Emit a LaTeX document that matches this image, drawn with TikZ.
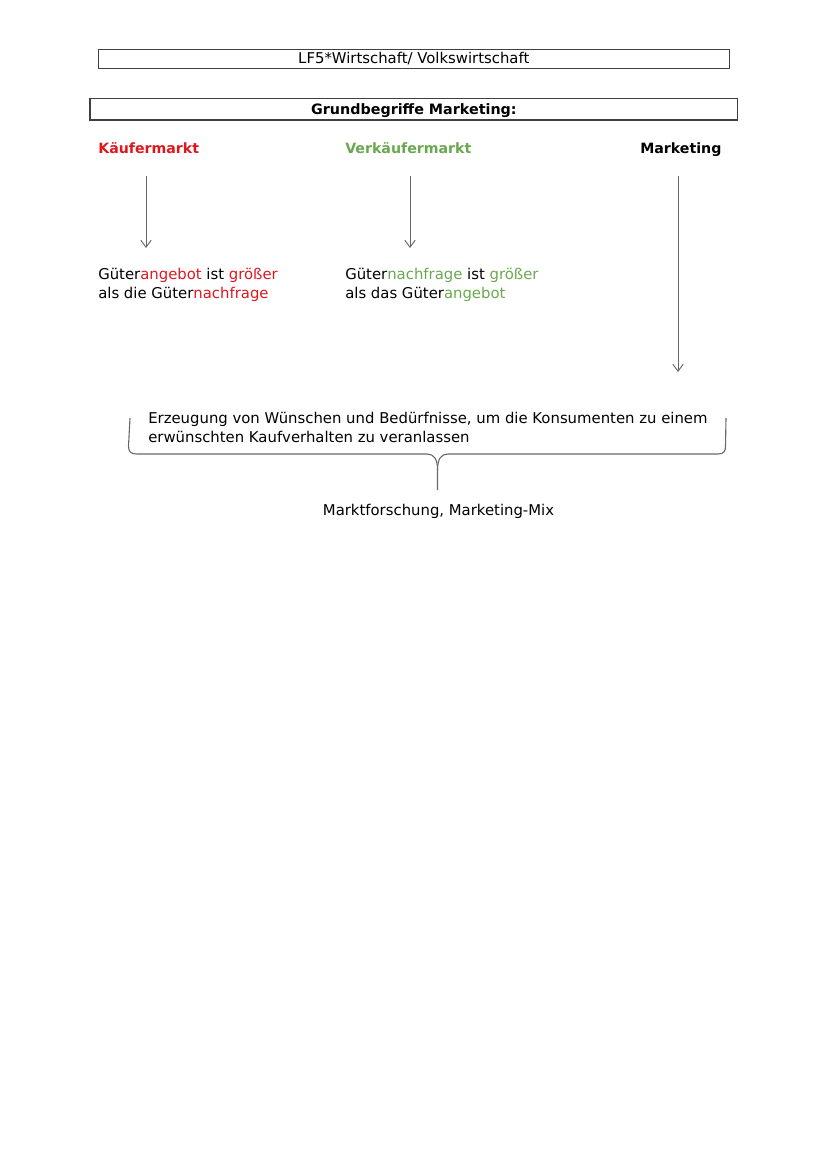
\documentclass[tikz,border=0pt]{standalone}
\usepackage{fontspec}
\setmainfont{DejaVu Sans}
\usetikzlibrary{arrows.meta,positioning}
\definecolor{kaeuferrot}{RGB}{220,24,30}
\definecolor{verkaeufergruen}{RGB}{106,168,79}
\definecolor{linie}{RGB}{105,105,105}
\def\pxu{0.72pt}
\tikzset{
  kopfbox/.style={draw=black!75, line width=0.9pt, inner sep=0pt,
    font=\fontsize{10.7}{13.4}\selectfont},
  begriff/.style={anchor=base west, inner sep=0pt,
    font=\fontsize{10.2}{13.4}\selectfont\bfseries},
  erklaerung/.style={anchor=base west, inner sep=0pt, align=left,
    font=\fontsize{10.7}{13.4}\selectfont},
  pfeil/.style={draw=linie, line width=0.7pt,
    -{Straight Barb[length=5pt,width=7.5pt]}}
}
\newcommand{\rot}[1]{\textcolor{kaeuferrot}{#1}}
\newcommand{\gruen}[1]{\textcolor{verkaeufergruen}{#1}}

\begin{document}
\begin{tikzpicture}[x=\pxu, y=-\pxu]
    \useasboundingbox (0,0) rectangle (828,1171);
    % Kopfzeile und Ueberschrift
    \node[kopfbox, minimum width=631*\pxu, minimum height=19.4*\pxu, text height=8pt, text depth=1.6pt] (titel) at (413.8,59) {LF5*Wirtschaft/ Volkswirtschaft};
    \node[kopfbox, minimum width=647.7*\pxu, minimum height=21.3*\pxu, text height=8.6pt, text depth=0.6pt,
      font=\fontsize{10.3}{13.4}\selectfont\bfseries] (grund) at (413.9,109.4) {Grundbegriffe Marketing:};
    % Die drei Begriffe
    \node[begriff, text=kaeuferrot] (kaeufer) at (98,154) {Käufermarkt};
    \node[begriff, text=verkaeufergruen] (verkaeufer) at (345,154) {Verkäufermarkt};
    \node[begriff] (marketing) at (640,154) {Marketing};
    % Erklaerungen (Grundlinie der letzten Zeile)
    \node[erklaerung] (angebot) at (98,298) {Güter\rot{angebot} ist \rot{größer}\\als die Güter\rot{nachfrage}};
    \node[erklaerung] (nachfrage) at (345,298) {Güter\gruen{nachfrage} ist \gruen{größer}\\als das Güter\gruen{angebot}};
    \node[erklaerung] (wunsch) at (148,442) {Erzeugung von Wünschen und Bedürfnisse, um die Konsumenten zu einem\\erwünschten Kaufverhalten zu veranlassen};
    \node[anchor=base, inner sep=0pt, font=\fontsize{10.7}{13.4}\selectfont] (mix) at (438.5,515) {Marktforschung, Marketing-Mix};
    % Pfeile
    \coordinate (k1) at (146,176);   \coordinate (k2) at (146,248);
    \coordinate (v1) at (410,176);   \coordinate (v2) at (410,248);
    \coordinate (m1) at (678,176);   \coordinate (m2) at (678,372);
    \foreach \von/\bis in {k1/k2, v1/v2, m1/m2}
    \draw[pfeil] (\von) -- (\bis);
    % Geschweifte Klammer
    \draw[linie, line width=0.8pt] (130,418) -- (128.5,446) .. controls (128.5,452) and (131,454) .. (137,454)
      -- (427,454) .. controls (434,454) and (437.5,459) .. (437.5,470) -- (437.5,490);
    \draw[linie, line width=0.8pt] (437.5,470) .. controls (437.5,459) and (441,454) .. (448,454)
      -- (718,454) .. controls (724,454) and (725.5,451) .. (725.5,446) -- (726,418);
\end{tikzpicture}
\end{document}
